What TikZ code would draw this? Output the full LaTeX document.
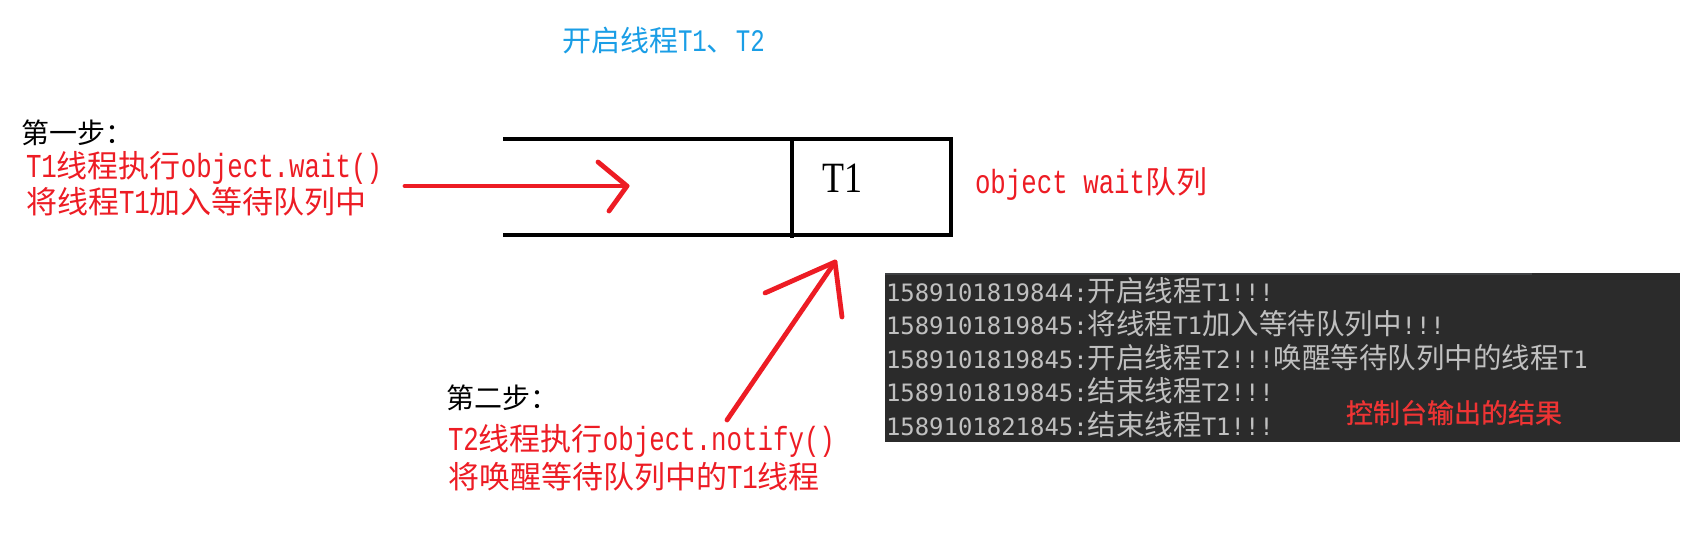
\documentclass[tikz,border=0pt]{standalone}
\usepackage{fontspec}
\usepackage{graphicx}
\newfontfamily\cjk{Noto Sans CJK SC}
\newfontfamily\cjkbold[FakeBold=0.8]{Noto Sans CJK SC}
\newfontfamily\monof[Scale=1.08,FakeStretch=0.77]{Liberation Mono}
\newfontfamily\conmonof[Scale=0.84]{DejaVu Sans Mono}
\newfontfamily\tnr{Liberation Serif}
\newcommand\codetxt[1]{{\monof #1}}
\newcommand\cmono[1]{{\conmonof #1}}
\definecolor{redink}{RGB}{237,28,36}
\definecolor{bluetxt}{RGB}{26,158,230}
\definecolor{conbg}{RGB}{43,43,43}
\definecolor{constrip}{RGB}{62,64,66}
\definecolor{congray}{RGB}{192,192,192}
\definecolor{conred}{RGB}{238,52,52}
\begin{document}
\begin{tikzpicture}[x=0.5pt,y=-0.5pt,
  lbl/.style={inner sep=0pt, outer sep=0pt, anchor=base west},
  redtxt/.style={lbl, text=redink, font=\cjk\fontsize{15.5pt}{18pt}\selectfont},
  blacktxt/.style={lbl, text=black, font=\cjk\fontsize{14pt}{17pt}\selectfont},
  contxt/.style={lbl, text=congray, font=\cjk\fontsize{14.25pt}{17pt}\selectfont},
  pen/.style={draw=redink, line width=2.4pt, line cap=round, line join=round},
  boxline/.style={draw=black, line width=2pt}]
\fill[white] (0,0) rectangle (1696,557);
\useasboundingbox (0,0) rectangle (1696,557);

% title
\node[lbl, text=bluetxt, font=\cjk\fontsize{14.5pt}{17pt}\selectfont] (title) at (562,51) {开启线程\codetxt{T1}、\codetxt{T2}};

% step 1
\node[blacktxt] (s1) at (21,143) {第一步：};
\node[redtxt] (s1a) at (26,177) {\codetxt{T1}线程执行\codetxt{object.wait()}};
\node[redtxt] (s1b) at (26,213) {将线程\codetxt{T1}加入等待队列中};

% queue box
\coordinate (qtl) at (503,139);
\coordinate (qtr) at (951,139);
\coordinate (qbr) at (951,235);
\coordinate (qbl) at (503,235);
\coordinate (qdt) at (792,139);
\coordinate (qdb) at (792,238);
\draw[boxline] (qtl) -- (qtr) -- (qbr) -- (qbl);
\draw[boxline] (qdt) -- (qdb);
\node[lbl, text=black, font=\tnr\fontsize{18pt}{21pt}\selectfont] (t1) at (822,192) {\scalebox{1}[1.2]{T1}};
\node[redtxt] (qlabel) at (975,193) {\codetxt{object wait}队列};

% arrow 1
\coordinate (a1s) at (405,186);
\coordinate (a1t) at (627,186);
\coordinate (a1u) at (598,162);
\coordinate (a1d) at (609,211);
\draw[pen] (a1s) -- (a1t);
\draw[pen] (a1u) -- (a1t) -- (a1d);

% arrow 2
\coordinate (a2s) at (727,420);
\coordinate (a2t) at (835,262);
\coordinate (a2l) at (765,293);
\coordinate (a2r) at (842,317);
\draw[pen] (a2s) -- (a2t);
\draw[pen] (a2l) -- (a2t) -- (a2r);

% step 2
\node[blacktxt] (s2) at (446,408) {第二步：};
\node[redtxt] (s2a) at (448,450) {\codetxt{T2}线程执行\codetxt{object.notify()}};
\node[redtxt] (s2b) at (448,488) {将唤醒等待队列中的\codetxt{T1}线程};

% console
\fill[conbg] (885,273) rectangle (1680,442);
\draw[constrip, line width=1pt] (885,274) -- (1532,274);
\node[contxt] (c1) at (886,301) {\cmono{1589101819844:}开启线程\cmono{T1!!!}};
\node[contxt] (c2) at (886,334.5) {\cmono{1589101819845:}将线程\cmono{T1}加入等待队列中\cmono{!!!}};
\node[contxt] (c3) at (886,368) {\cmono{1589101819845:}开启线程\cmono{T2!!!}唤醒等待队列中的线程\cmono{T1}};
\node[contxt] (c4) at (886,401.5) {\cmono{1589101819845:}结束线程\cmono{T2!!!}};
\node[contxt] (c5) at (886,435) {\cmono{1589101821845:}结束线程\cmono{T1!!!}};
\node[lbl, text=conred, font=\cjkbold\fontsize{13.5pt}{16pt}\selectfont] (cres) at (1346,423) {控制台输出的结果};
\end{tikzpicture}
\end{document}
